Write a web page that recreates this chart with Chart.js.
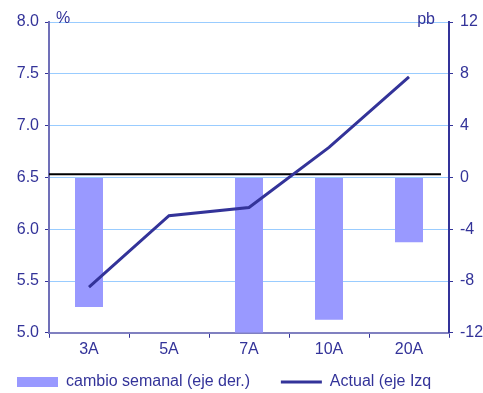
<!DOCTYPE html>
<html>
<head>
<meta charset="utf-8">
<script src="https://cdn.jsdelivr.net/npm/chart.js@4.4.0/dist/chart.umd.min.js"></script>
<style>
  html, body { margin: 0; padding: 0; background: #fff; }
  #wrap { width: 483px; height: 393px; position: relative; }
</style>
</head>
<body>
<div id="wrap"><canvas id="curveChart"></canvas></div>
<script>
// Chart data
const plazos = ['3A', '5A', '7A', '10A', '20A'];
const cambioSemanal = [-10, 0, -12, -11, -5];      // pb, right axis
const actual = [5.44, 6.13, 6.21, 6.79, 7.47];     // %, left axis
const ticksIzq = [5.0, 5.5, 6.0, 6.5, 7.0, 7.5, 8.0];
const ticksDer = [-12, -8, -4, 0, 4, 8, 12];
const lineaRef = 6.53; // black reference line (left axis)

const azul = '#333399';
const font = { family: '"Liberation Sans", Arial, sans-serif', size: 16 };

// draws the black horizontal line and the "%" / "pb" unit labels
const extras = {
  id: 'extras',
  beforeDatasetsDraw(chart) {
    const { ctx, chartArea } = chart;
    const y = chart.scales.y.getPixelForValue(lineaRef);
    ctx.save();
    ctx.strokeStyle = '#000';
    ctx.lineWidth = 2;
    ctx.beginPath();
    ctx.moveTo(chartArea.left, y);
    ctx.lineTo(chartArea.right - 8, y);
    ctx.stroke();
    ctx.restore();
  },
  afterDraw(chart) {
    const { ctx, chartArea } = chart;
    ctx.save();
    ctx.fillStyle = azul;
    ctx.font = '16px "Liberation Sans", Arial, sans-serif';
    ctx.textBaseline = 'middle';
    ctx.textAlign = 'left';
    ctx.fillText('%', chartArea.left + 7, chartArea.top - 3);
    ctx.textAlign = 'right';
    ctx.fillText('pb', chartArea.right - 14, chartArea.top - 2);
    ctx.restore();
  }
};

new Chart(document.getElementById('curveChart'), {
  data: {
    labels: plazos,
    datasets: [
      {
        type: 'line',
        label: 'Actual (eje Izq',
        data: actual,
        yAxisID: 'y',
        borderColor: azul,
        backgroundColor: azul,
        borderWidth: 3,
        pointRadius: 0,
        tension: 0,
        pointStyle: 'line',
        order: 1
      },
      {
        type: 'bar',
        label: 'cambio semanal (eje der.)    ',
        data: cambioSemanal,
        yAxisID: 'y1',
        backgroundColor: '#9999ff',
        borderWidth: 0,
        barPercentage: 0.35,
        categoryPercentage: 1,
        pointStyle: 'rect',
        order: 2
      }
    ]
  },
  options: {
    responsive: true,
    maintainAspectRatio: false,
    animation: false,
    layout: { padding: { left: 4, right: 0, top: 22, bottom: -7 } },
    plugins: {
      tooltip: { enabled: false },
      legend: {
        position: 'bottom',
        align: 'start',
        reverse: true,
        labels: {
          usePointStyle: true,
          pointStyleWidth: 41,
          boxHeight: 10,
          padding: 13,
          color: azul,
          font: font
        }
      }
    },
    scales: {
      x: {
        offset: true,
        grid: { offset: true, drawOnChartArea: false, tickLength: 5, tickColor: azul },
        border: { color: '#8080c0', width: 2 },
        ticks: { color: azul, font: font, padding: 2 }
      },
      y: {
        position: 'left',
        min: 5, max: 8,
        afterBuildTicks(scale) { scale.ticks = ticksIzq.map(v => ({ value: v })); },
        afterFit(scale) { scale.width = 45; },
        grid: { drawOnChartArea: false, tickLength: 4, tickColor: azul },
        border: { color: '#7070b8', width: 2 },
        ticks: { color: azul, font: font, padding: 6, callback: v => v.toFixed(1) }
      },
      y1: {
        position: 'right',
        min: -12, max: 12,
        afterBuildTicks(scale) { scale.ticks = ticksDer.map(v => ({ value: v })); },
        afterFit(scale) { scale.width = 34; },
        grid: { color: '#99ccff', tickColor: azul, tickLength: 4 },
        border: { color: azul, width: 2 },
        ticks: { color: azul, font: font, padding: 7 }
      }
    }
  },
  plugins: [extras]
});
</script>
</body>
</html>
